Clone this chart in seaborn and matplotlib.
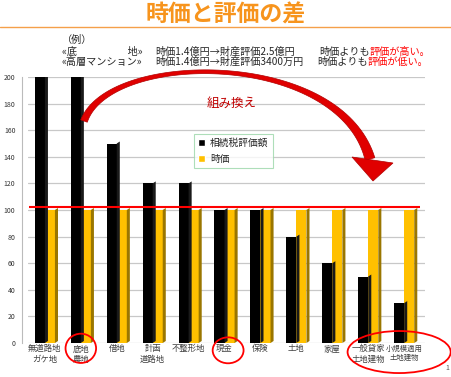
import numpy as np
import pandas as pd
import matplotlib.pyplot as plt
import matplotlib.transforms as mtransforms
import seaborn as sns
from matplotlib.patches import Ellipse, Polygon

# data
categories = ["無道路地\nガケ地", "底地\n農地", "借地", "計画\n道路地", "不整形地",
              "現金", "保険", "土地", "家屋", "一般貸家\n土地建物", "小規模適用\n土地建物"]
souzoku = [200, 200, 150, 120, 120, 100, 100, 80, 60, 50, 30]
jika = [100, 100, 100, 100, 100, 100, 100, 100, 100, 100, 100]
series_names = ["相続税評価額", "時価"]

df = pd.DataFrame({
    "cat": categories * 2,
    "value": souzoku + jika,
    "series": [series_names[0]] * len(categories) + [series_names[1]] * len(categories),
})

sns.set_style("white")
plt.rcParams['font.family'] = ['Noto Sans CJK JP', 'DejaVu Sans']

fig = plt.figure(figsize=(4.52, 3.77), dpi=100)
ax = fig.add_axes([28 / 452, 1 - 343 / 377, 397 / 452, 266 / 377])
# pixel coords (top-left origin) for decorations
px = mtransforms.Affine2D().scale(1 / 452, -1 / 377).translate(0, 1) + fig.transFigure

sns.barplot(data=df, x="cat", y="value", hue="series", order=categories,
            hue_order=series_names, palette=["#000000", "#FFC000"],
            width=0.56, gap=0, saturation=1, ax=ax, legend=True)

# fake 3D side faces
side = 0.085
for p in ax.patches:
    x0, w, h = p.get_x(), p.get_width(), p.get_height()
    if h <= 0:
        continue
    col = p.get_facecolor()
    dark = "#9A7600" if col[0] > 0.5 else "#1a1a1a"
    ax.add_patch(Polygon([[x0 + w, 0], [x0 + w + side, 1.5], [x0 + w + side, h + 1.5], [x0 + w, h]],
                         closed=True, facecolor=dark, edgecolor="none", zorder=p.get_zorder()))
    p.set_edgecolor("none")

ax.set_ylim(0, 200)
ax.set_xlim(-0.47, 10.58)
ax.set_yticks(np.arange(0, 201, 20))
ax.yaxis.grid(True, color="#C8C8C8", lw=0.9)
ax.set_axisbelow(True)
for s in ["top", "right", "bottom"]:
    ax.spines[s].set_visible(False)
ax.spines["left"].set_color("#BBBBBB")
ax.spines["left"].set_position(("outward", 4))
ax.tick_params(axis="y", labelsize=5, colors="#333333", length=3, color="#BBBBBB", pad=2)
ax.tick_params(axis="x", labelsize=6, colors="#404040", length=0, pad=1)
ax.get_xticklabels()[-1].set_fontsize(5.3)
ax.set_xlabel("")
ax.set_ylabel("")

# red line at 100
ax.hlines(102, -0.45, 10.45, color="#FF0000", lw=1.5, zorder=5)

# legend
handles, labels = ax.get_legend_handles_labels()
leg = ax.legend(handles, labels, loc="upper left", bbox_to_anchor=(189 / 452, 1 - 129 / 377),
                bbox_transform=fig.transFigure, fontsize=7, frameon=True, fancybox=False,
                edgecolor="#9AD6A8", handlelength=0.7, handleheight=0.7, handletextpad=0.5,
                labelspacing=0.6, borderpad=0.45)
leg.get_frame().set_linewidth(0.8)

# curved arrow (cubic bezier body with tapering width + triangular head)
P = np.array([[84, 121], [110, 50], [340, 50], [370, 159]], dtype=float)
t = np.linspace(0, 1, 80)[:, None]
pts = ((1 - t) ** 3 * P[0] + 3 * (1 - t) ** 2 * t * P[1]
       + 3 * (1 - t) * t ** 2 * P[2] + t ** 3 * P[3])
der = (3 * (1 - t) ** 2 * (P[1] - P[0]) + 6 * (1 - t) * t * (P[2] - P[1])
       + 3 * t ** 2 * (P[3] - P[2]))
nrm = np.column_stack([-der[:, 1], der[:, 0]])
nrm /= np.linalg.norm(nrm, axis=1)[:, None]
tt = t[:, 0]
wid = 7 - 15.5 * tt + 18.5 * tt ** 2
body = np.vstack([pts + nrm * wid[:, None] / 2, (pts - nrm * wid[:, None] / 2)[::-1]])
fig.add_artist(Polygon(body, closed=True, facecolor="#E00000", edgecolor="#B00000",
                       lw=0.5, transform=px, zorder=6))
fig.add_artist(Polygon([[352, 157], [393, 163], [373, 181]], closed=True,
                       facecolor="#E00000", edgecolor="#B00000", lw=0.5, transform=px, zorder=6))
ax.text(5.2, 180, "組み換え", color="#C00000", fontsize=9, ha="center", va="center")

# ellipses around labels
for cx, cy, w, h in [(1.0, -4, 0.85, 22), (5.1, -5.5, 0.86, 19.5), (9.86, -6.8, 2.87, 31.6)]:
    ax.add_patch(Ellipse((cx, cy), w, h, fill=False, edgecolor="#FF0000", lw=1.3, clip_on=False))

# header
fig.text(0.5, 1 - 15 / 377, "時価と評価の差", color="#F7941D", fontsize=16.5, fontweight="bold",
         ha="center", va="center")
fig.add_artist(plt.Line2D([0, 1], [1 - 27 / 377, 1 - 27 / 377], color="#F5A04A", lw=1))
fs = 7.3
fig.text(62 / 452, 1 - 40 / 377, "（例）", fontsize=fs, va="center")
fig.text(62 / 452, 1 - 52 / 377, "«底　　　　　地»", fontsize=fs, va="center")
fig.text(62 / 452, 1 - 62 / 377, "«高層マンション»", fontsize=fs, va="center")
fig.text(155 / 452, 1 - 52 / 377, "時価1.4億円→財産評価2.5億円", fontsize=fs, va="center")
fig.text(155 / 452, 1 - 62 / 377, "時価1.4億円→財産評価3400万円", fontsize=fs, va="center")
t1 = fig.text(319 / 452, 1 - 52 / 377, "時価よりも", fontsize=fs, va="center")
t2 = fig.text(317 / 452, 1 - 62 / 377, "時価よりも", fontsize=fs, va="center")
ax.annotate("評価が高い。", xy=(1, 0.5), xycoords=t1, fontsize=fs, va="center",
            color="#FF0000", annotation_clip=False)
ax.annotate("評価が低い。", xy=(1, 0.5), xycoords=t2, fontsize=fs, va="center",
            color="#FF0000", annotation_clip=False)
fig.text(447 / 452, 1 - 368 / 377, "1", fontsize=5, color="#555555", ha="center", va="center")

fig.savefig("out.png", dpi=100)
